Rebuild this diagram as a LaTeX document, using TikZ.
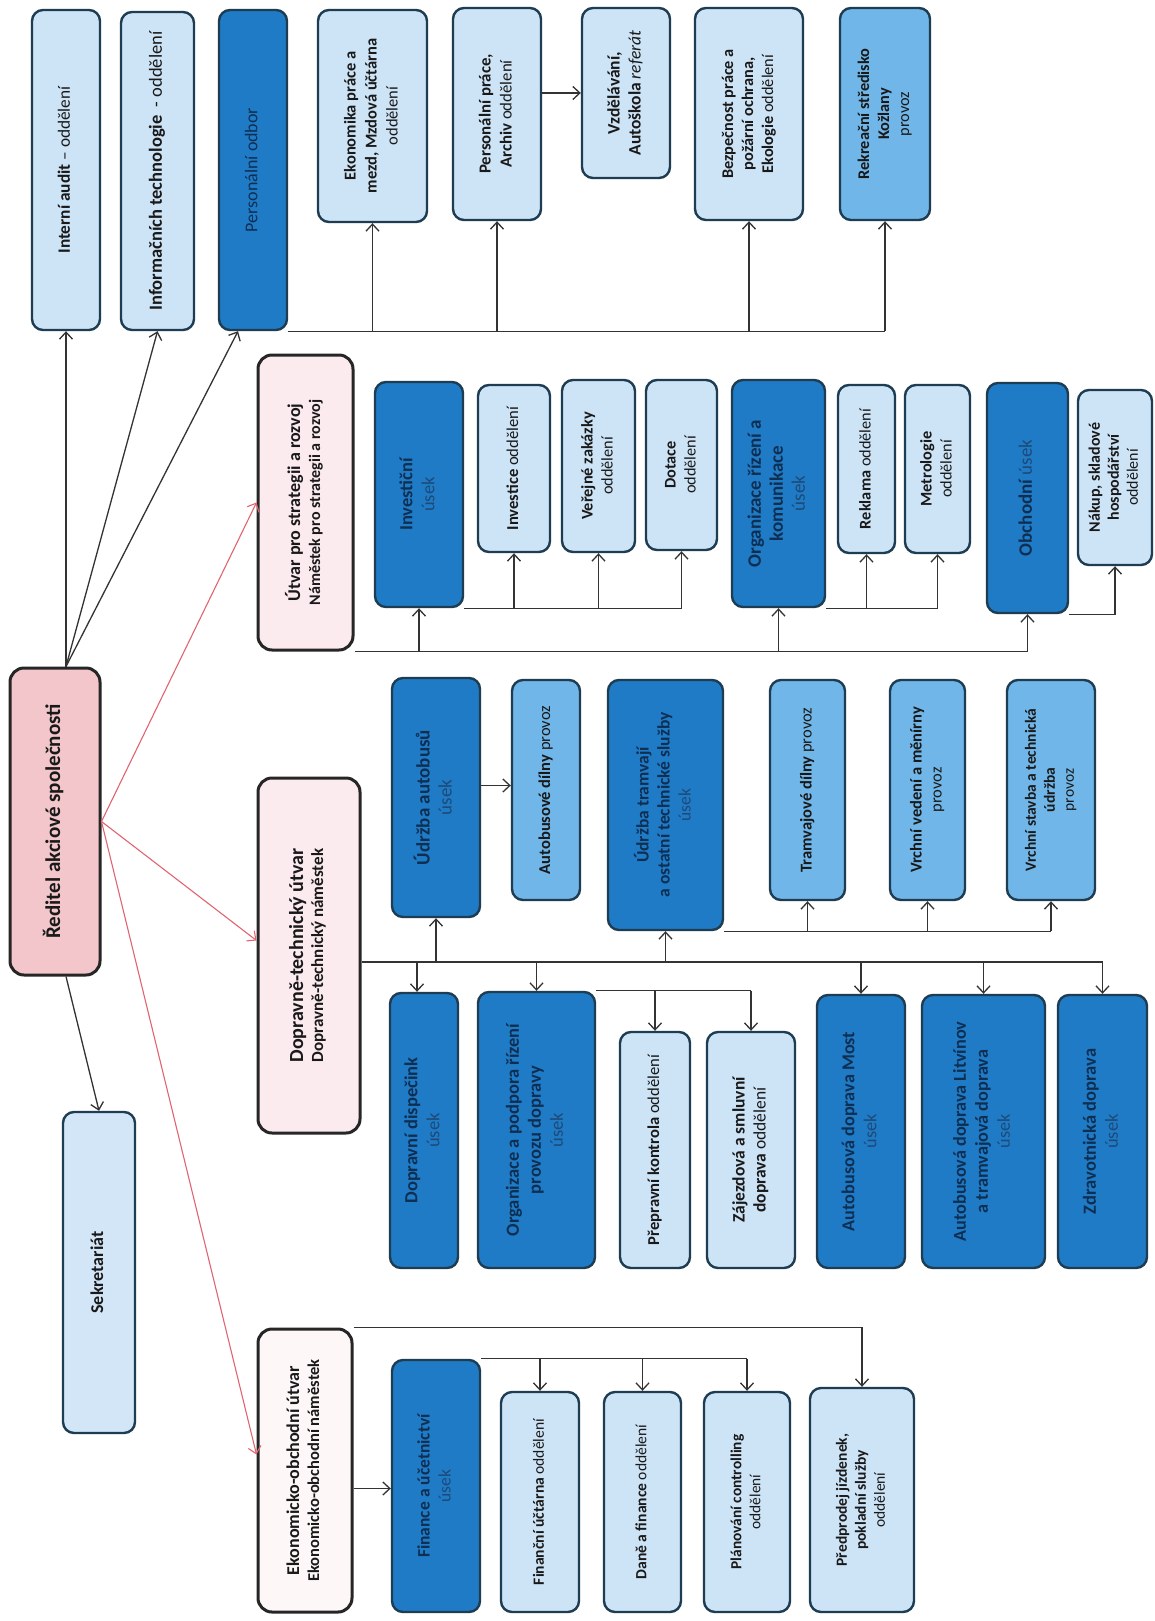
\documentclass[tikz,border=0pt]{standalone}
\usepackage{fontspec}
\setmainfont{Carlito}
\usepackage{graphicx}
\usetikzlibrary{arrows.meta,calc}
\definecolor{lb}{HTML}{CDE3F6}
\definecolor{mb}{HTML}{70B6E8}
\definecolor{db}{HTML}{1F7BC6}
\definecolor{sk}{HTML}{D3E6F8}
\definecolor{bord}{HTML}{1E3D52}
\definecolor{pk}{HTML}{F2C6CB}
\definecolor{lpk}{HTML}{FBEAEE}
\definecolor{wpk}{HTML}{FDF7F7}
\definecolor{lnk}{HTML}{333333}
\definecolor{rd}{HTML}{E06570}
\definecolor{dtx}{HTML}{0E2E52}
\definecolor{utx}{HTML}{1D4A78}
\tikzset{
  box/.style={draw=bord, line width=2.4pt, rounded corners=11pt, inner sep=0pt, align=center,
    font=\fontsize{16}{20}\selectfont\bfseries},
  fsb/.style 2 args={font=\fontsize{#1}{#2}\selectfont\bfseries},
  fsr/.style 2 args={font=\fontsize{#1}{#2}\selectfont},
  lbox/.style={box, fill=lb, text=black!90},
  mbox/.style={box, fill=mb, text=black!90},
  dbox/.style={box, fill=db, text=dtx},
  pbox/.style={box, draw=black!85, line width=3pt, rounded corners=14pt, text=black!90},
  arr/.style={draw=lnk, line width=1.3pt, -{Straight Barb[length=7pt,width=13pt]}},
  ln/.style={draw=lnk, line width=1.3pt},
  rarr/.style={draw=rd, line width=1.1pt, -{Straight Barb[length=7pt,width=13pt]}}
}
\newcommand\bx[7]{\node[#6, minimum width={(#4)-(#2)}, minimum height={(#5)-(#3)}] (#1) at ({((#2)+(#4))/2},{((#3)+(#5))/2}) {\rotatebox{90}{\begin{tabular}{@{}c@{}}#7\end{tabular}}};}
\newcommand\us{{\mdseries\color{utx}úsek}}
\begin{document}
\begin{tikzpicture}[x=1pt,y=-1pt]
\fill[white] (0,0) rectangle (1155,1621);
\useasboundingbox (0,0) rectangle (1155,1621);
% top row
\bx{audit}{32}{10}{100}{330}{lbox,fsb={17.3}{20}}{Interní audit {\mdseries -- oddělení}}
\bx{it}{121}{12}{194}{330}{lbox,fsb={18.5}{22}}{Informačních technologie~ {\mdseries - oddělení}}
\bx{perso}{219}{10}{287}{330}{dbox,fsr={18}{22}}{Personální odbor}
\bx{ekprace}{318}{10}{427}{222}{lbox,fsb={16.5}{21}}{Ekonomika práce a\\mezd, Mzdová účtárna\\{\mdseries oddělení}}
\bx{persprace}{453}{8}{541}{220}{lbox,fsb={16.8}{21}}{Personální práce,\\Archiv {\mdseries oddělení}}
\bx{vzdel}{582}{8}{670}{178}{lbox,fsb={17.5}{21}}{Vzdělávání,\\Autoškola {\mdseries\itshape referát}}
\bx{bezp}{695}{8}{803}{220}{lbox,fsb={16.3}{20}}{Bezpečnost práce a\\požární ochrana,\\Ekologie {\mdseries oddělení}}
\bx{rekr}{840}{8}{930}{220}{mbox,fsb={16.3}{20}}{Rekreační středisko\\Kožlany\\{\mdseries provoz}}
% director, secretariat
\bx{redit}{10}{668}{100}{975}{pbox,fill=pk,fsb={21}{25}}{Ředitel akciové společnosti}
\bx{sekr}{63}{1112}{135}{1433}{lbox,fill=sk,fsb={18}{21}}{Sekretariát}
% strategy
\bx{utvar}{258}{355}{353}{650}{pbox,fill=lpk}{{\fontsize{18}{22}\selectfont Útvar pro strategii a rozvoj}\\{\fontsize{16}{20}\selectfont Náměstek pro strategii a rozvoj}}
\bx{invus}{375}{382}{463}{607}{dbox,fsb={18.5}{22}}{Investiční\\\us}
\bx{invodd}{478}{385}{550}{552}{lbox,fsb={16.6}{20}}{Investice {\mdseries oddělení}}
\bx{verej}{562}{380}{635}{552}{lbox,fsb={16.3}{20}}{Veřejné zakázky\\{\mdseries oddělení}}
\bx{dotace}{646}{380}{717}{550}{lbox,fsb={16.3}{20}}{Dotace\\{\mdseries oddělení}}
\bx{orgus}{732}{380}{825}{607}{dbox,fsb={19}{22}}{Organizace řízení a\\komunikace\\\us}
\bx{reklama}{838}{385}{895}{553}{lbox,fsb={16.3}{20}}{Reklama {\mdseries oddělení}}
\bx{metro}{905}{385}{970}{553}{lbox,fsb={16.3}{20}}{Metrologie\\{\mdseries oddělení}}
\bx{obch}{987}{383}{1068}{613}{dbox,fsb={19}{22}}{Obchodní \us}
\bx{nakup}{1078}{390}{1152}{565}{lbox,fsb={16}{19}}{Nákup, skladové\\hospodářství\\{\mdseries oddělení}}
% transport-technical
\bx{dopr}{258}{778}{360}{1133}{pbox,fill=lpk}{{\fontsize{20}{24}\selectfont Dopravně-technický útvar}\\{\fontsize{17}{21}\selectfont Dopravně-technický náměstek}}
\bx{udrzbus}{392}{678}{480}{917}{dbox,fsb={19}{22}}{Údržba autobusů\\\us}
\bx{autodil}{512}{680}{580}{900}{mbox,fsb={16.5}{20}}{Autobusové dílny {\mdseries provoz}}
\bx{udrztram}{608}{680}{723}{930}{dbox,fsb={17.5}{21}}{Údržba tramvají\\a ostatní technické služby\\\us}
\bx{tramdil}{770}{680}{845}{900}{mbox,fsb={16.5}{20}}{Tramvajové dílny {\mdseries provoz}}
\bx{vrchved}{890}{680}{965}{900}{mbox,fsb={16.5}{20}}{Vrchní vedení a měnírny\\{\mdseries provoz}}
\bx{vrchstav}{1007}{680}{1095}{900}{mbox,fsb={15.5}{19}}{Vrchní stavba a technická\\údržba\\{\mdseries provoz}}
\bx{dispecink}{390}{993}{458}{1268}{dbox,fsb={18.5}{22}}{Dopravní dispečink\\\us}
\bx{orgpodp}{478}{992}{595}{1268}{dbox,fsb={18.5}{22}}{Organizace a podpora řízení\\provozu dopravy\\\us}
\bx{prepr}{620}{1032}{690}{1268}{lbox,fsb={16.6}{20}}{Přepravní kontrola {\mdseries oddělení}}
\bx{zajezd}{707}{1032}{795}{1268}{lbox,fsb={17.5}{21}}{Zájezdová a smluvní\\doprava {\mdseries oddělení}}
\bx{most}{817}{995}{905}{1268}{dbox,fsb={18.2}{22}}{Autobusová doprava Most\\\us}
\bx{litvinov}{922}{995}{1045}{1268}{dbox,fsb={18.2}{22}}{Autobusová doprava Litvínov\\a tramvajová doprava\\\us}
\bx{zdrav}{1058}{995}{1147}{1268}{dbox,fsb={18.5}{22}}{Zdravotnická doprava\\\us}
% economic
\bx{ekon}{258}{1329}{352}{1612}{pbox,fill=wpk}{{\fontsize{18}{22}\selectfont Ekonomicko-obchodní útvar}\\{\fontsize{16.5}{20}\selectfont Ekonomicko-obchodní náměstek}}
\bx{finance}{392}{1360}{480}{1612}{dbox,fsb={17.5}{21}}{Finance a účetnictví\\\us}
\bx{finucto}{501}{1392}{579}{1612}{lbox,fsb={15.6}{19}}{Finanční účtárna {\mdseries oddělení}}
\bx{dane}{604}{1392}{681}{1612}{lbox,fsb={15.6}{19}}{Daně a finance {\mdseries oddělení}}
\bx{plan}{704}{1392}{790}{1612}{lbox,fsb={15.4}{19}}{Plánování controlling\\{\mdseries oddělení}}
\bx{predprodej}{810}{1388}{914}{1612}{lbox,fsb={15.5}{19}}{Předprodej jízdenek,\\pokladní služby\\{\mdseries oddělení}}
% director connectors
\coordinate (rt) at ([xshift=11pt]redit.north);
\draw[arr] (rt) -- (audit.south);
\draw[arr] (rt) -- (it.south);
\draw[arr] (rt) -- ([xshift=-15pt]perso.south);
\draw[arr] ([xshift=11pt]redit.south) -- (sekr.north);
\draw[rarr] (redit.east) -- (utvar.west);
\draw[rarr] (redit.east) -- ([yshift=15pt]dopr.west);
\draw[rarr] (redit.east) -- ([yshift=16pt]ekon.west);
% personnel
\draw[ln] (perso.south east) -- (rekr.south |- perso.south east);
\foreach \n in {ekprace,persprace,bezp,rekr} \draw[arr] (\n.south |- perso.south east) -- (\n.south);
\draw[arr] (persprace.east |- vzdel.west) -- (vzdel.west);
% strategy
\draw[ln] (utvar.south east) -- (obch.south |- utvar.south east);
\foreach \n in {invus,orgus,obch} \draw[arr] (\n.south |- utvar.south east) -- (\n.south);
\draw[ln] (invus.south east) -- (dotace.south |- invus.south east);
\foreach \n in {invodd,verej,dotace} \draw[arr] (\n.south |- invus.south east) -- (\n.south);
\draw[ln] (orgus.south east) -- (metro.south |- orgus.south east);
\foreach \n in {reklama,metro} \draw[arr] (\n.south |- orgus.south east) -- (\n.south);
\draw[arr] (obch.south east) -| (nakup.south);
% transport
\coordinate (db) at (0,962);
\draw[ln] (dopr.east |- db) -- (zdrav.north |- db);
\foreach \n in {udrzbus,udrztram} \draw[arr] (\n.south |- db) -- (\n.south);
\draw[arr] ([xshift=-7pt]dispecink.north |- db) -- ([xshift=-7pt]dispecink.north);
\foreach \n in {orgpodp,most,litvinov,zdrav} \draw[arr] (\n.north |- db) -- (\n.north);
\coordinate (ua) at ([yshift=12pt]udrzbus.east);
\draw[arr] (ua) -- (ua -| autodil.west);
\draw[ln] (udrztram.south east) -- (vrchstav.south |- udrztram.south east);
\foreach \n in {tramdil,vrchved,vrchstav} \draw[arr] (\n.south |- udrztram.south east) -- (\n.south);
\draw[ln] (orgpodp.north east) -- (zajezd.north |- orgpodp.north east);
\foreach \n in {prepr,zajezd} \draw[arr] (\n.north |- orgpodp.north east) -- (\n.north);
% economic
\draw[arr] (ekon.north east) -| (predprodej.north);
\coordinate (ea) at ([yshift=-18pt]ekon.east);
\draw[arr] (ea) -- (ea -| finance.west);
\draw[ln] (finance.north east) -- (plan.north |- finance.north east);
\foreach \n in {finucto,dane,plan} \draw[arr] (\n.north |- finance.north east) -- (\n.north);
\end{tikzpicture}
\end{document}
